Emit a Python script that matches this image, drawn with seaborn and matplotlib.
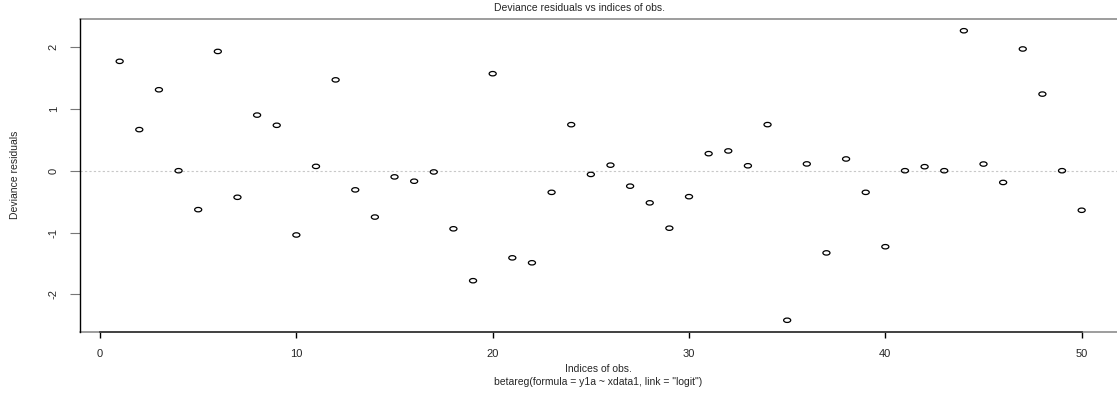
import numpy as np
import matplotlib
matplotlib.use("Agg")
import matplotlib.pyplot as plt
from matplotlib.path import Path
import seaborn as sns

# Deviance residuals of the beta regression, one per observation
obs_index = list(range(1, 51))
deviance_resid = [
    1.77, 0.665, 1.31, 0.0, -0.63, 1.93, -0.43, 0.90, 0.735, -1.04,
    0.07, 1.47, -0.31, -0.75, -0.10, -0.17, -0.02, -0.94, -1.78, 1.57,
    -1.41, -1.49, -0.35, 0.745, -0.06, 0.09, -0.25, -0.52, -0.93, -0.42,
    0.276, 0.32, 0.08, 0.746, -2.42, 0.11, -1.33, 0.19, -0.35, -1.23,
    0.0, 0.065, 0.0, 2.265, 0.108, -0.19, 1.97, 1.24, 0.0, -0.64,
]
x_ticks = [0, 10, 20, 30, 40, 50]
y_ticks = [-2, -1, 0, 1, 2]

title = "Deviance residuals vs indices of obs."
x_label = "Indices of obs."
sub_label = 'betareg(formula = y1a ~ xdata1, link = "logit")'
y_label = "Deviance residuals"

sns.set_style("white")
plt.rcParams["font.family"] = ["Liberation Sans", "DejaVu Sans"]

W, H = 1117, 398
fig = plt.figure(figsize=(W / 100, H / 100), dpi=100)
ax = fig.add_axes([80 / W, (H - 332) / H, 1 - 80 / W, (332 - 19) / H])

# flattened open circle marker
circ = Path.unit_circle()
oval = Path(circ.vertices * np.array([1.0, 0.62]), circ.codes)

df = {"idx": obs_index, "res": deviance_resid}
sns.scatterplot(data=df, x="idx", y="res", marker=oval, s=26,
                edgecolor="black", linewidth=0.9, ax=ax, zorder=3)
ax.collections[0].set_facecolor("none")

ax.axhline(0, color="#c8c8c8", linestyle=(0, (2, 2)), linewidth=0.8, zorder=1)

ax.set_xlim(-1.02, 51.8)
ax.set_ylim(-2.61, 2.455)

# box: grey frame with black axis lines
for side in ["top", "right", "bottom", "left"]:
    ax.spines[side].set_visible(False)
ax.spines["left"].set_visible(True)
ax.spines["left"].set_color("black")
ax.spines["left"].set_linewidth(1.0)
ax.axhline(2.455, color="#8c8c8c", linewidth=1.2, clip_on=False, zorder=2)
ax.axhline(-2.61, color="#8c8c8c", linewidth=1.2, clip_on=False, zorder=2)
ax.spines["bottom"].set_visible(True)
ax.spines["bottom"].set_bounds(0, 50)
ax.spines["bottom"].set_color("#333333")
ax.spines["bottom"].set_linewidth(1.2)
ax.spines["bottom"].set_zorder(4)

ax.set_xticks(x_ticks)
ax.set_xticklabels([str(t) for t in x_ticks])
ax.set_yticks(y_ticks)
ax.set_yticklabels([str(t) for t in y_ticks], rotation=90, va="center")
ax.tick_params(axis="x", direction="out", length=4.5, width=1.0, color="black",
               labelsize=8, pad=8, bottom=True)
ax.tick_params(axis="y", direction="out", length=7.2, width=0.8, color="#777777",
               labelsize=8, pad=8, left=True)

ax.set_xlabel("")
ax.set_ylabel("")

fig.text(580 / W, 1 - 8 / H, title, ha="center", va="center", fontsize=7.5)
fig.text(598 / W, 1 - 369 / H, x_label, ha="center", va="center", fontsize=7.5)
fig.text(598 / W, 1 - 382 / H, sub_label, ha="center", va="center", fontsize=7.5)
fig.text(15 / W, 1 - 175 / H, y_label, ha="center", va="center",
         rotation=90, fontsize=7.5)

fig.savefig("out.png", dpi=100)
